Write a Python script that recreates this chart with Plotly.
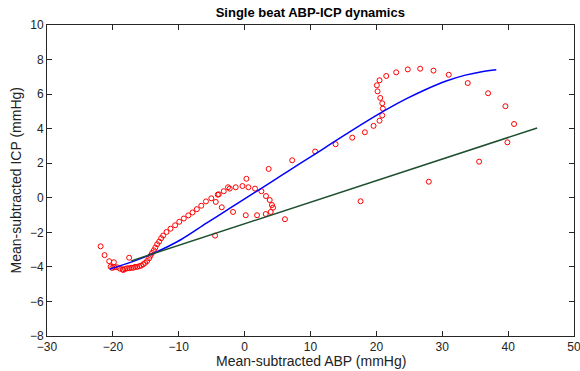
import plotly.graph_objects as go

# Red scatter points (mean-subtracted ABP, ICP)
abp_pts = [-21.86, -21.26, -20.56, -19.85, -20.35, -20.10, -19.80, -19.39, -18.94, -18.53, -18.44,
           -18.13, -17.83, -17.53, -17.22, -16.92, -16.62, -16.31, -16.01, -15.71, -15.40, -15.10,
           -14.80, -14.49, -14.28, -14.04, -13.78, -13.55, -13.28, -12.98, -12.67, -12.37, -11.86,
           -11.25, -10.55, -9.92, -9.23, -8.55, -7.91, -7.26, -6.58, -5.87, -5.06, -4.08, -3.93,
           -3.17, -2.52, -2.26, -1.35, -0.33, 0.58, 1.58, 2.55, 3.24, 3.81, 4.15, 4.31, 3.96, 3.20,
           1.88, 0.17, -1.76, -3.47, -4.38, 0.27, 3.65, 7.22, 10.70, -4.49, 6.12, -17.53,
           13.81, 16.34, 18.25, 19.57, 20.48, 20.89, 20.98, 20.89, 20.59, 20.18, 20.07, 20.48,
           21.50, 23.01, 24.77, 26.65, 28.67, 30.99, 33.87, 36.96, 39.59, 40.90, 39.89, 35.60,
           27.96, 17.60]
icp_pts = [-2.81, -3.32, -3.67, -3.73, -3.99, -4.06, -4.02, -4.02, -4.10, -4.14, -4.18,
           -4.12, -4.08, -4.08, -4.05, -4.05, -4.00, -4.00, -3.96, -3.93, -3.85, -3.77,
           -3.66, -3.50, -3.35, -3.19, -3.04, -2.88, -2.69, -2.54, -2.34, -2.19, -1.98,
           -1.79, -1.59, -1.39, -1.20, -1.02, -0.85, -0.66, -0.46, -0.21, -0.03, 0.18, 0.20,
           0.38, 0.61, 0.53, 0.61, 0.68, 0.61, 0.53, 0.38, 0.10, -0.13, -0.42, -0.57, -0.82, -0.94,
           -1.01, -1.01, -0.82, -0.55, -0.24, 1.10, 1.67, 2.17, 2.68, -2.19, -1.24, -3.47,
           3.10, 3.48, 3.79, 4.16, 4.46, 4.77, 5.16, 5.47, 5.78, 6.16, 6.51, 6.80,
           7.05, 7.26, 7.43, 7.47, 7.36, 7.12, 6.64, 6.05, 5.30, 4.27, 3.21, 2.09,
           0.93, -0.20]

# Blue fitted curve
fit_x = [-20.45, -16.9, -13.4, -9.7, -5.8, -1.8, 2.0, 5.3, 8.5, 12.0, 15.4, 18.5, 21.5,
         24.5, 27.5, 30.6, 33.5, 36.0, 38.2]
fit_y = [-4.12, -3.68, -3.14, -2.43, -1.47, -0.50, 0.42, 1.22, 2.0, 2.85, 3.68, 4.42, 5.10,
         5.72, 6.27, 6.76, 7.10, 7.30, 7.41]

# Green linear line
lin_x = [-17.2, 44.4]
lin_y = [-3.65, 4.04]

x_ticks = [-30, -20, -10, 0, 10, 20, 30, 40, 50]
y_ticks = [-8, -6, -4, -2, 0, 2, 4, 6, 8, 10]

FONT = "Liberation Sans, Arial, Helvetica, sans-serif"

fig = go.Figure()
fig.add_trace(go.Scatter(x=abp_pts, y=icp_pts, mode="markers",
                         marker=dict(symbol="circle-open", size=5, color="#ff0000",
                                     line=dict(width=1, color="#ff0000")),
                         showlegend=False))
fig.add_trace(go.Scatter(x=fit_x, y=fit_y, mode="lines", line_shape="spline",
                         line=dict(color="#0000ff", width=1.5), showlegend=False))
fig.add_trace(go.Scatter(x=lin_x, y=lin_y, mode="lines",
                         line=dict(color="#1d4f2f", width=1.5), showlegend=False))

axis_common = dict(showgrid=False, zeroline=False, showline=True, linecolor="#262626",
                   linewidth=1, mirror="ticks", ticks="inside", ticklen=5, automargin=False,
                   ticklabeloverflow="allow",
                   tickcolor="#262626", tickfont=dict(family=FONT, size=12, color="#222"))

fig.update_layout(
    width=580, height=371,
    margin=dict(l=47, r=6, t=25, b=35, autoexpand=False),
    plot_bgcolor="white", paper_bgcolor="white",
    title=dict(text="<b>Single beat ABP-ICP dynamics</b>", x=0.535, xanchor="center",
               y=1 - 12 / 371, yanchor="middle", yref="container",
               font=dict(family=FONT, size=13, color="#000")),
    xaxis=dict(range=[-30, 50], tickvals=x_ticks, **axis_common),
    yaxis=dict(range=[-8, 10], tickvals=y_ticks, **axis_common),
    annotations=[
        dict(text="Mean-subtracted ABP (mmHg)", xref="paper", yref="paper",
             x=0.5, y=-(361 - 336) / 311, xanchor="center", yanchor="middle",
             showarrow=False, font=dict(family=FONT, size=14, color="#222")),
        dict(text="Mean-subtracted ICP (mmHg)", xref="paper", yref="paper",
             x=-(47 - 15) / 527, y=0.5, xanchor="center", yanchor="middle",
             textangle=-90, showarrow=False, font=dict(family=FONT, size=14, color="#222")),
    ],
)

fig.write_html("out.html", config={"displayModeBar": False},
               post_script="document.body.style.margin='0';document.body.style.overflow='hidden';")
